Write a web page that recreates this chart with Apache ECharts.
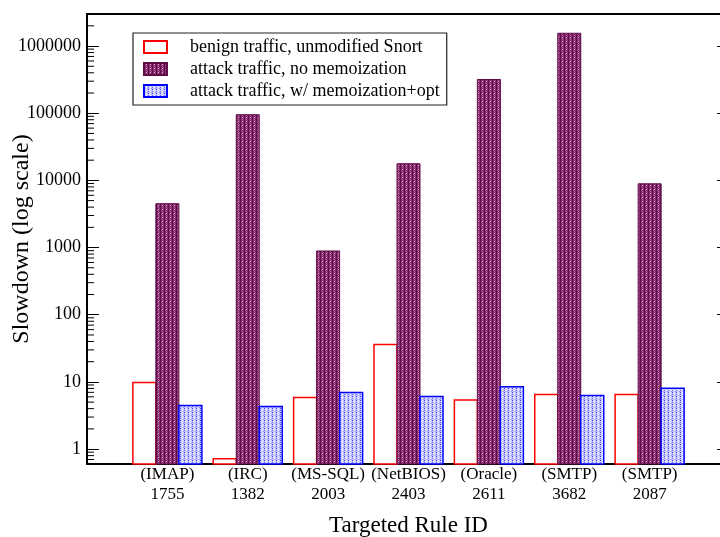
<!DOCTYPE html>
<html><head><meta charset="utf-8">
<script src="https://cdn.jsdelivr.net/npm/echarts@6/dist/echarts.min.js"></script>
<style>html,body{margin:0;padding:0;background:#fff}#c{width:720px;height:537px}</style>
</head><body><div id="c"></div>
<script>
// ---- data ----
const categories = ['(IMAP)\n1755','(IRC)\n1382','(MS-SQL)\n2003','(NetBIOS)\n2403','(Oracle)\n2611','(SMTP)\n3682','(SMTP)\n2087'];
const categoryPos = [1,2,3,4,5,6,7];
const seriesNames = ['benign traffic, unmodified Snort','attack traffic, no memoization','attack traffic, w/ memoization+opt'];
const benign = [9.8, 0.72, 5.85, 36, 5.4, 6.5, 6.5];
const attackNoMemo = [4500, 95000, 890, 17700, 318000, 1550000, 8900];
const attackMemo = [4.45, 4.3, 6.95, 6.05, 8.5, 6.27, 8.05];
const yMajorTicks = [1,10,100,1000,10000,100000,1000000];
const Y_MIN = 0.6, Y_MAX = 3e6;
const yMinorTicks = [];
[0.1,1,10,100,1000,10000,100000,1000000].forEach(d=>{for(let k=2;k<=9;k++){const v=k*d; if(v>=Y_MIN&&v<=Y_MAX) yMinorTicks.push(v);}});

function pattern(w,h,base,dots){
  const c=document.createElement('canvas'); c.width=w; c.height=h;
  const g=c.getContext('2d'); g.fillStyle=base; g.fillRect(0,0,w,h);
  dots.forEach(d=>{g.fillStyle=d[2]; g.fillRect(d[0],d[1],1,1);});
  return c;
}
const purplePat = pattern(4,4,'#82266a',[[0,0,'#5e0c48'],[0,1,'#5e0c48'],[0,2,'#5e0c48'],[0,3,'#5e0c48'],[2,1,'#e6b4d8'],[2,3,'#b868a4'],[1,2,'#a8508e'],[3,0,'#a04886']]);
const bluePat = pattern(4,4,'#c4c4ff',[[0,0,'#3a3aff'],[2,2,'#ffffff'],[0,2,'#7070ff'],[2,0,'#ffffff'],[1,1,'#e8e8ff'],[3,3,'#9a9aff']]);

const font = 'Liberation Serif';
const BAR_W = 23;
function barRender(offset){
  return (params, api)=>{
    const top = api.coord([api.value(0), api.value(1)]);
    const bot = api.coord([api.value(0), Y_MIN]);
    return {type:'rect', shape:{x:top[0]+offset-BAR_W/2, y:top[1], width:BAR_W, height:bot[1]-top[1]}, style:api.style()};
  };
}
function mk(vals){ return vals.map((v,i)=>[categoryPos[i], v]); }
const chart = echarts.init(document.getElementById('c'), null, {renderer:'canvas'});
chart.setOption({
  animation:false,
  grid:{left:87,right:-10,top:14,bottom:73,show:true,borderColor:'#000',borderWidth:2,backgroundColor:'transparent',outerBoundsMode:'none',containLabel:false},
  legend:{
    data:seriesNames, orient:'vertical', left:133, top:33,
    padding:[5,7,5,10], itemGap:4, itemWidth:23, itemHeight:12,
    borderColor:'#222', borderWidth:1.2, icon:'rect',
    textStyle:{fontFamily:font,fontSize:18,color:'#000',padding:[0,0,0,18],lineHeight:18},
    selectedMode:false
  },
  xAxis:{
    type:'value', min:0, max:8, interval:1,
    name:'Targeted Rule ID', nameLocation:'middle', nameGap:50, nameMoveOverlap:false,
    nameTextStyle:{fontFamily:font,fontSize:23,color:'#000'},
    axisLine:{show:true,lineStyle:{color:'#000',width:2}},
    axisTick:{show:false}, splitLine:{show:false},
    axisLabel:{fontFamily:font,fontSize:17,color:'#000',lineHeight:20,margin:1,hideOverlap:false,
      formatter:v=>{const i=categoryPos.indexOf(Math.round(v)); return (Math.abs(v-Math.round(v))<1e-6&&i>=0)?categories[i]:'';}}
  },
  yAxis:[{
    type:'log', logBase:10, min:Y_MIN, max:Y_MAX,
    name:'Slowdown (log scale)', nameLocation:'middle', nameGap:53, nameMoveOverlap:false,
    nameTextStyle:{fontFamily:font,fontSize:24,color:'#000'},
    axisLine:{show:true,lineStyle:{color:'#000',width:2}},
    axisTick:{show:true,inside:true,length:12,lineStyle:{color:'#000',width:1}},
    splitLine:{show:false},
    axisLabel:{fontFamily:font,fontSize:18,color:'#000',margin:6,showMinLabel:false,showMaxLabel:false,hideOverlap:false,
      formatter:v=>{const r=Math.round(v); return yMajorTicks.includes(r)&&Math.abs(v-r)<1e-3*r?String(r):'';}}
  },{
    type:'log', logBase:10, min:Y_MIN, max:Y_MAX, position:'right',
    axisLine:{show:true,lineStyle:{color:'#000',width:2}},
    axisTick:{show:true,inside:true,length:13,lineStyle:{color:'#000',width:1}},
    axisLabel:{show:false}, splitLine:{show:false}
  }],
  series:[
    {name:seriesNames[0],type:'custom',data:mk(benign),encode:{x:0,y:1},renderItem:barRender(-BAR_W),
     itemStyle:{color:'#fff',borderColor:'#ff0000',borderWidth:1.5}},
    {name:seriesNames[1],type:'custom',data:mk(attackNoMemo),encode:{x:0,y:1},renderItem:barRender(0),
     itemStyle:{color:{image:purplePat,repeat:'repeat'},borderColor:'#5e0c48',borderWidth:1}},
    {name:seriesNames[2],type:'custom',data:mk(attackMemo),encode:{x:0,y:1},renderItem:barRender(BAR_W),
     itemStyle:{color:{image:bluePat,repeat:'repeat'},borderColor:'#0000ff',borderWidth:1.5}},
    {type:'custom',name:'minor',data:yMinorTicks.map(v=>[0,v]),silent:true,clip:false,z:5,
     renderItem:(params,api)=>{const p=api.coord([api.value(0),api.value(1)]);
       return {type:'line',shape:{x1:p[0],y1:p[1],x2:p[0]+7,y2:p[1]},style:{stroke:'#000',lineWidth:1}};}}
  ]
});
</script></body></html>
